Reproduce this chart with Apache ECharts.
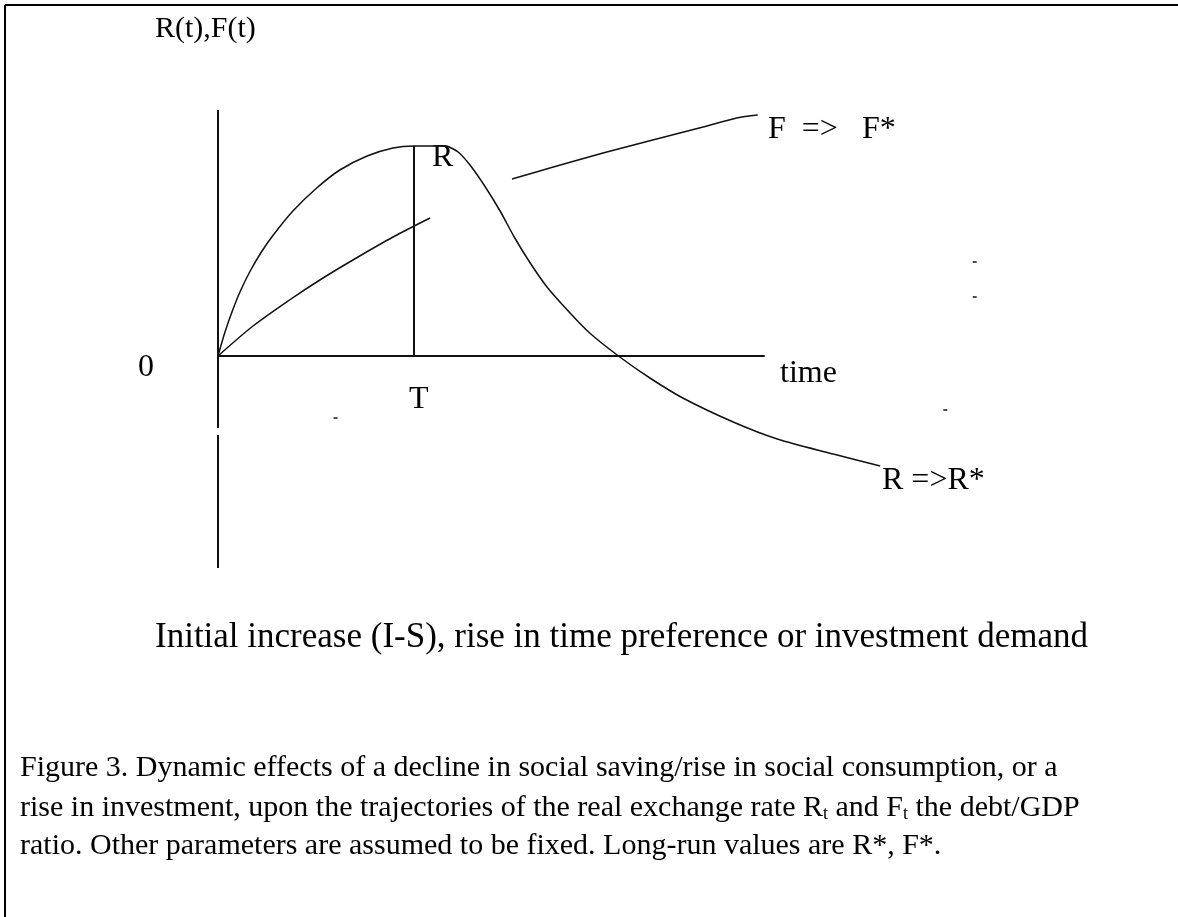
<!DOCTYPE html>
<html>
<head>
<meta charset="utf-8">
<title>Figure 3</title>
<script src="https://cdn.jsdelivr.net/npm/echarts@6/dist/echarts.min.js"></script>
<style>
	html, body { margin: 0; padding: 0; background: #fff; }
	#figure3 { width: 1178px; height: 917px; }
</style>
</head>
<body>
<div id="figure3"></div>
<script>
// 时间轴单位: 0 = 原点, T = 2.8
var T = 2.8;
var timeEnd = 7.81;
var axisTop = 4.92, axisBottom = -4.24, gapTop = -1.44, gapBottom = -1.58;

// R(t) 上升段 (到峰值)
var rRise = [[0, 0], [0.1, 0.48], [0.21, 0.92], [0.32, 1.3], [0.46, 1.7], [0.62, 2.08], [0.79, 2.42],
	[1.07, 2.9], [1.41, 3.36], [1.74, 3.72], [2.13, 4.0], [2.5, 4.16], [2.8, 4.2], [3.27, 4.2]];
// R(t) 下降段 -> R*
var rFall = [[3.27, 4.2], [3.43, 4.08], [3.6, 3.82], [3.81, 3.4], [4.03, 2.9], [4.24, 2.36],
	[4.46, 1.86], [4.7, 1.38], [4.99, 0.92], [5.31, 0.46], [5.74, -0.02], [6.17, -0.44],
	[6.64, -0.84], [7.36, -1.32], [7.99, -1.66], [8.79, -1.96], [9.46, -2.2]];
// F(t) 从原点到 T 之后
var fEarly = [[0, 0], [0.5, 0.6], [1.0, 1.1], [1.5, 1.56], [2.0, 1.98], [2.5, 2.38], [3.03, 2.76]];
// F(t) 后段 -> F*
var fLate = [[4.2, 3.54], [4.79, 3.78], [5.5, 4.06], [6.21, 4.32], [6.93, 4.58], [7.41, 4.76], [7.71, 4.82]];
// 图上的小点
var specks = [[10.81, 1.88], [10.81, 1.18], [10.39, -1.08], [1.68, -1.24]];

var serif = '"Liberation Serif", "DejaVu Serif", serif';

function lineSeries(data, width, smooth) {
	return {
		type: 'line',
		data: data,
		symbol: 'none',
		smooth: smooth,
		silent: true,
		lineStyle: { color: '#111', width: width }
	};
}

function txt(left, top, text, size) {
	return {
		type: 'text',
		left: left,
		top: top,
		style: { text: text, font: size + 'px ' + serif, fill: '#000' }
	};
}

var myChart = echarts.init(document.getElementById('figure3'));
var option = {
	animation: false,
	grid: { left: 218, top: 106, width: 770, height: 500 },
	xAxis: { type: 'value', min: 0, max: 11, show: false },
	yAxis: { type: 'value', min: -5, max: 5, show: false },
	series: [
		// 坐标轴
		lineSeries([[0, axisTop], [0, gapTop]], 2, false),
		lineSeries([[0, gapBottom], [0, axisBottom]], 2, false),
		lineSeries([[0, 0], [timeEnd, 0]], 2, false),
		lineSeries([[T, 0], [T, 4.2]], 2, false),
		// 曲线
		lineSeries(rRise, 1.5, 0.3),
		lineSeries(rFall, 1.5, 0.3),
		lineSeries(fEarly, 1.5, 0.3),
		lineSeries(fLate, 1.5, 0.3),
		{
			type: 'scatter',
			data: specks,
			symbol: 'rect',
			symbolSize: [4, 2],
			itemStyle: { color: '#222' },
			silent: true
		}
	],
	graphic: [
		// 边框
		{ type: 'line', shape: { x1: 5, y1: 5, x2: 1178, y2: 5 }, style: { stroke: '#000', lineWidth: 2 } },
		{ type: 'line', shape: { x1: 5, y1: 5, x2: 5, y2: 917 }, style: { stroke: '#000', lineWidth: 2 } },
		txt(155, 14, 'R(t),F(t)', 30),
		txt(138, 352, '0', 32),
		txt(409, 384, 'T', 32),
		txt(432, 142, 'R', 32),
		txt(780, 358, 'time', 32),
		txt(768, 114, 'F  =>   F*', 32),
		txt(882, 465, 'R =>R*', 32),
		txt(155, 620, 'Initial increase (I-S), rise in time preference or investment demand', 35),
		txt(20, 753, 'Figure 3. Dynamic effects of a decline in social saving/rise in social consumption, or a', 30),
		{
			type: 'text',
			left: 20,
			top: 793,
			style: {
				text: 'rise in investment, upon the trajectories of the real exchange rate R{s|t} and F{s|t} the debt/GDP',
				font: '30px ' + serif,
				fill: '#000',
				rich: { s: { fontSize: 18, fontFamily: serif, verticalAlign: 'bottom', padding: [10, 0, 0, 0] } }
			}
		},
		txt(20, 831, 'ratio. Other parameters are assumed to be fixed. Long-run values are R*, F*.', 30)
	]
};
myChart.setOption(option);
</script>
</body>
</html>
